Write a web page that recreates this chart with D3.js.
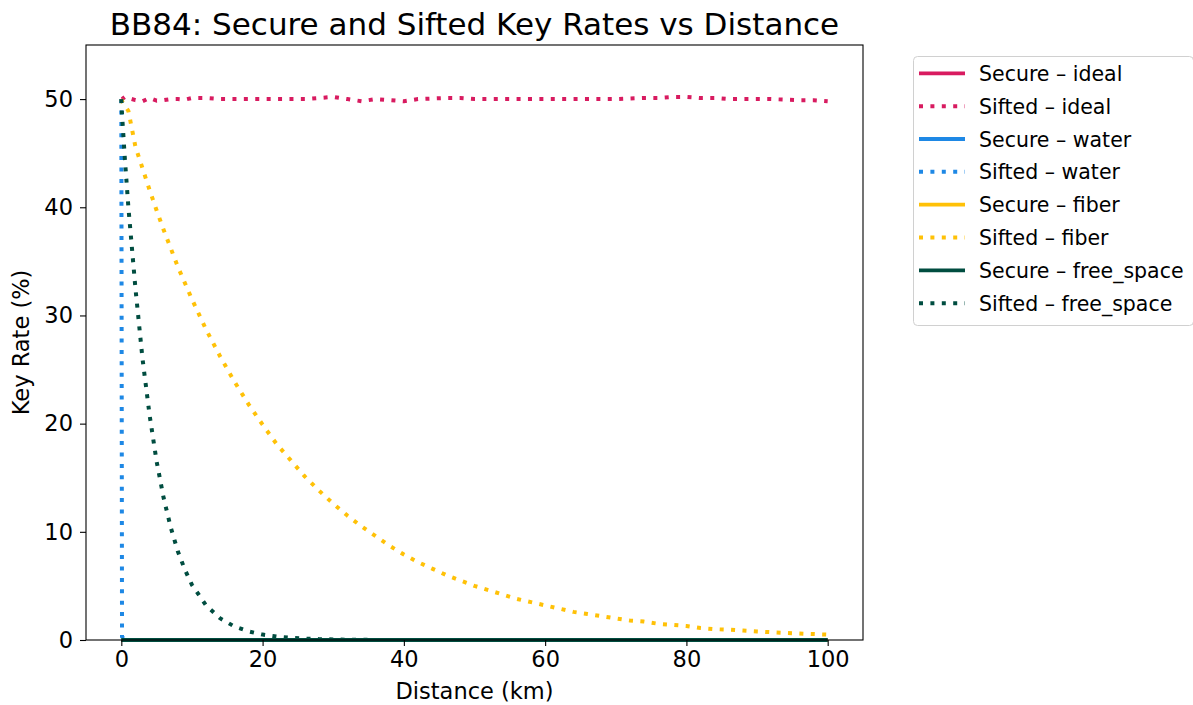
<!DOCTYPE html>
<html>
<head>
<meta charset="utf-8">
<script src="https://cdn.jsdelivr.net/npm/d3@7"></script>
<style>
  body { margin: 0; background: #fff; }
  text { font-family: "DejaVu Sans", sans-serif; fill: #000; }
</style>
</head>
<body>
<script>
// distances (km) used for every curve
var distances = [0, 0.1, 0.5, 1, 2, 3, 4, 5, 6, 7, 8, 9, 10,
  12, 14, 16, 18, 20, 22, 24, 26, 28, 30, 32, 34, 36, 38, 40, 42, 44, 46, 48, 50,
  52, 54, 56, 58, 60, 62, 64, 66, 68, 70, 72, 74, 76, 78, 80, 82, 84, 86, 88, 90,
  92, 94, 96, 98, 100];

// secure key rates (%) - all flat at zero
var secureIdeal = [0,0,0,0,0,0,0,0,0,0,0,0,0, 0,0,0,0,0,0,0,0,0,0,0,0,0,0,0,0,0,0,0,0, 0,0,0,0,0,0,0,0,0,0,0,0,0,0,0,0,0,0,0,0, 0,0,0,0,0];
var secureWater = [0,0,0,0,0,0,0,0,0,0,0,0,0, 0,0,0,0,0,0,0,0,0,0,0,0,0,0,0,0,0,0,0,0, 0,0,0,0,0,0,0,0,0,0,0,0,0,0,0,0,0,0,0,0, 0,0,0,0,0];
var secureFiber = [0,0,0,0,0,0,0,0,0,0,0,0,0, 0,0,0,0,0,0,0,0,0,0,0,0,0,0,0,0,0,0,0,0, 0,0,0,0,0,0,0,0,0,0,0,0,0,0,0,0,0,0,0,0, 0,0,0,0,0];
var secureFree = [0,0,0,0,0,0,0,0,0,0,0,0,0, 0,0,0,0,0,0,0,0,0,0,0,0,0,0,0,0,0,0,0,0, 0,0,0,0,0,0,0,0,0,0,0,0,0,0,0,0,0,0,0,0, 0,0,0,0,0];

// sifted key rates (%)
var siftedIdeal = [50.0, 50.0, 50.2, 50.1, 49.9, 49.8, 50.1, 49.85, 49.9, 50.0, 50.0, 49.95, 50.1,
  50.1, 50.0, 50.0, 50.0, 50.0, 50.0, 50.0, 50.0, 50.1, 50.2, 50.0, 49.8, 50.0, 49.9, 49.8, 50.0, 50.05, 50.1, 50.1, 50.0,
  50.0, 50.0, 50.0, 50.0, 50.0, 50.0, 50.0, 50.0, 50.0, 50.0, 50.05, 50.1, 50.1, 50.2, 50.2, 50.1, 50.1, 50.0, 50.0, 50.0,
  50.0, 49.95, 49.9, 49.9, 49.8];
var siftedWater = [50.0, 0.3, 0,0,0,0,0,0,0,0,0,0,0, 0,0,0,0,0,0,0,0,0,0,0,0,0,0,0,0,0,0,0,0, 0,0,0,0,0,0,0,0,0,0,0,0,0,0,0,0,0,0,0,0, 0,0,0,0,0];
var siftedFiber = [50.0, 49.8, 49.4, 48.9, 45.6, 43.6, 41.6, 39.7, 37.9, 36.2, 34.5, 33.0, 31.5,
  28.7, 26.2, 23.9, 21.8, 19.9, 18.1, 16.6, 15.1, 13.8, 12.6, 11.5, 10.5, 9.6, 8.7, 7.9, 7.2, 6.6, 6.0, 5.5, 5.0,
  4.6, 4.2, 3.8, 3.5, 3.2, 2.9, 2.6, 2.4, 2.2, 2.0, 1.8, 1.7, 1.5, 1.4, 1.3, 1.1, 1.0, 0.95, 0.87, 0.79,
  0.72, 0.66, 0.6, 0.55, 0.5];
var siftedFree = [50.0, 48.6, 44.5, 40.0, 32.5, 26.0, 20.8, 16.5, 13.1, 10.4, 8.2, 6.5, 5.1,
  3.2, 2.0, 1.25, 0.8, 0.5, 0.32, 0.2, 0.13, 0.08, 0.05, 0.03, 0.02, 0.01, 0.01, 0,0,0,0,0,0,
  0,0,0,0,0,0,0,0,0,0,0,0,0,0,0,0,0,0,0,0, 0,0,0,0,0];

var seriesNames = ["Secure – ideal", "Sifted – ideal", "Secure – water", "Sifted – water",
  "Secure – fiber", "Sifted – fiber", "Secure – free_space", "Sifted – free_space"];
var seriesValues = [secureIdeal, siftedIdeal, secureWater, siftedWater,
  secureFiber, siftedFiber, secureFree, siftedFree];
var seriesColors = ["#D81B60", "#D81B60", "#1E88E5", "#1E88E5",
  "#FFC107", "#FFC107", "#004D40", "#004D40"];
var seriesDotted = [false, true, false, true, false, true, false, true];

var xTicks = [0, 20, 40, 60, 80, 100];
var yTicks = [0, 10, 20, 30, 40, 50];

var W = 1193, H = 705;
var plotL = 86, plotR = 863, plotT = 45, plotB = 640;

var svg = d3.select("body").append("svg")
  .attr("width", W).attr("height", H);

var x = d3.scaleLinear().domain([-5, 105]).range([plotL, plotR]);
var y = d3.scaleLinear().domain([0, 55]).range([plotB, plotT]);

// lines
var line = d3.line()
  .x(function(d) { return x(d[0]); })
  .y(function(d) { return y(d[1]); });

seriesValues.forEach(function(vals, i) {
  var pts = distances.map(function(d, j) { return [d, vals[j]]; });
  svg.append("path")
    .attr("d", line(pts))
    .attr("fill", "none")
    .attr("stroke", seriesColors[i])
    .attr("stroke-width", seriesDotted[i] ? 4 : 3.8)
    .attr("stroke-dasharray", seriesDotted[i] ? "4 7.4" : null)
    .attr("stroke-linejoin", "round");
});

// axes
var xAxis = svg.append("g")
  .attr("transform", "translate(0," + plotB + ")")
  .call(d3.axisBottom(x).tickValues(xTicks).tickSize(6).tickPadding(5));
var yAxis = svg.append("g")
  .attr("transform", "translate(" + plotL + ",0)")
  .call(d3.axisLeft(y).tickValues(yTicks).tickSize(6).tickPadding(7));

[xAxis, yAxis].forEach(function(a) {
  a.select(".domain").remove();
  a.selectAll("line").attr("stroke", "#000").attr("stroke-width", 1.1);
  a.selectAll("text").style("font-family", "DejaVu Sans").style("font-size", "22.5px");
});

// frame
svg.append("rect")
  .attr("x", plotL).attr("y", plotT)
  .attr("width", plotR - plotL).attr("height", plotB - plotT)
  .attr("fill", "none").attr("stroke", "#000").attr("stroke-width", 1.1);

// title and labels
svg.append("text")
  .attr("x", (plotL + plotR) / 2).attr("y", 35)
  .attr("text-anchor", "middle")
  .style("font-size", "31px")
  .text("BB84: Secure and Sifted Key Rates vs Distance");

svg.append("text")
  .attr("x", (plotL + plotR) / 2).attr("y", 699)
  .attr("text-anchor", "middle")
  .style("font-size", "22.5px")
  .text("Distance (km)");

svg.append("text")
  .attr("transform", "translate(29," + ((plotT + plotB) / 2) + ") rotate(-90)")
  .attr("text-anchor", "middle")
  .style("font-size", "22.5px")
  .text("Key Rate (%)");

// legend
var legend = svg.append("g");
legend.append("rect")
  .attr("x", 913.5).attr("y", 56.5)
  .attr("width", 280).attr("height", 269)
  .attr("rx", 4)
  .attr("fill", "#fff").attr("stroke", "#d0d0d0").attr("stroke-width", 1);

seriesNames.forEach(function(name, i) {
  var cy = 73.3 + i * 32.85;
  legend.append("line")
    .attr("x1", 919).attr("x2", 965)
    .attr("y1", cy).attr("y2", cy)
    .attr("stroke", seriesColors[i])
    .attr("stroke-width", seriesDotted[i] ? 4 : 3.8)
    .attr("stroke-dasharray", seriesDotted[i] ? "4 7.4" : null);
  legend.append("text")
    .attr("x", 979).attr("y", cy + 7.5)
    .style("font-size", "20.5px")
    .text(name);
});
</script>
</body>
</html>
